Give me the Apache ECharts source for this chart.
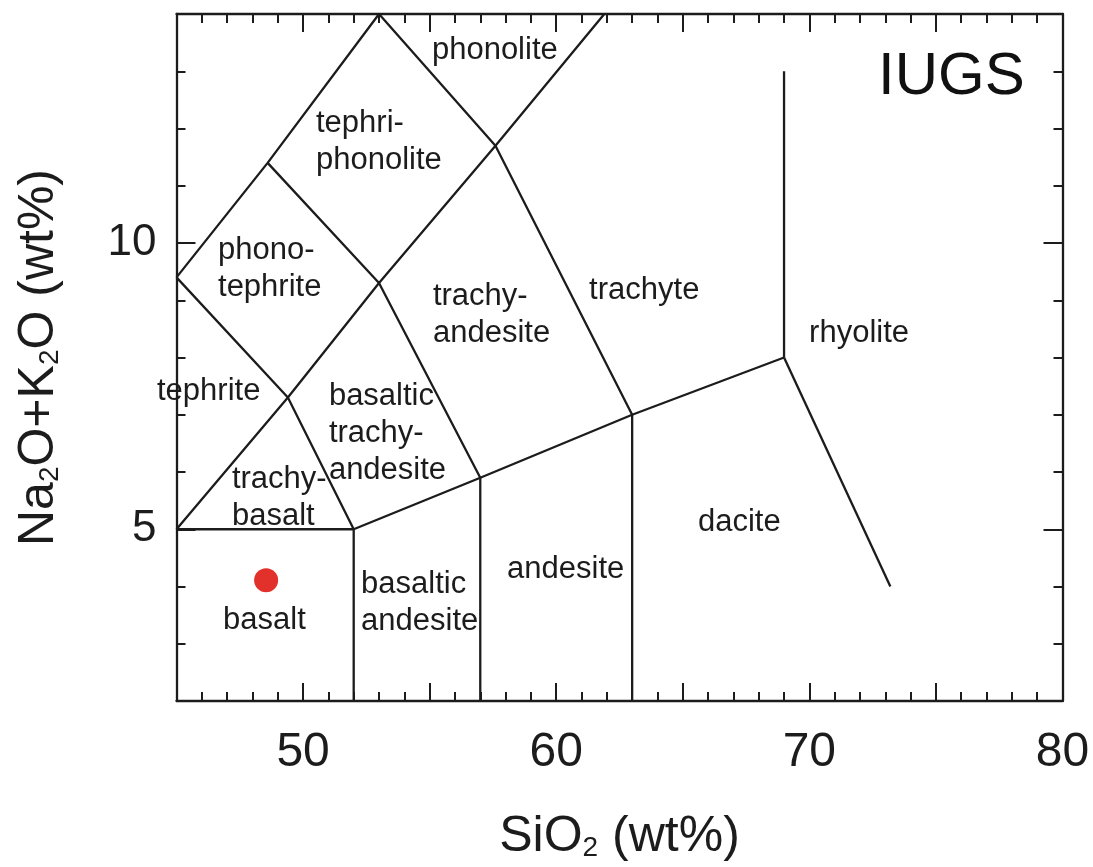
<!DOCTYPE html>
<html>
<head>
<meta charset="utf-8">
<script src="https://cdn.jsdelivr.net/npm/echarts@6/dist/echarts.min.js"></script>
<style>
  html, body { margin: 0; padding: 0; background: #ffffff; }
  #chart { width: 1093px; height: 867px; }
</style>
</head>
<body>
<div id="chart"></div>
<script>
// Total alkali vs. silica classification field boundaries: [SiO2 wt%, Na2O+K2O wt%]
const basaltTop = [[45, 5], [52, 5]];
const basaltRight = [[52, 2], [52, 5]];
const basalticAndesiteRight = [[57, 2], [57, 5.9]];
const andesiteRight = [[63, 2], [63, 7]];
const subalkalineTop = [[52, 5], [57, 5.9], [63, 7], [69, 8]];
const rhyoliteLeft = [[69, 8], [69, 13]];
const daciteRight = [[69, 8], [73.2, 4]];
const diagonalA = [[45, 5], [49.4, 7.3], [53, 9.3], [57.6, 11.7], [61.9, 14]];
const diagonalB = [[45, 9.4], [49.4, 7.3], [52, 5]];
const diagonalC = [[48.6, 11.4], [53, 9.3], [57, 5.9]];
const diagonalD = [[53, 14], [57.6, 11.7], [63, 7]];
const diagonalE = [[45, 9.4], [48.6, 11.4], [53, 14]];

// Field names and their left anchors
const regionNames = [
  'phonolite', 'tephri-\nphonolite', 'phono-\ntephrite', 'trachy-\nandesite', 'trachyte',
  'tephrite', 'basaltic\ntrachy-\nandesite', 'trachy-\nbasalt', 'basalt',
  'basaltic\nandesite', 'andesite', 'dacite', 'rhyolite'
];
const regionSiO2 = [55.09, 50.51, 46.64, 55.13, 61.30, 44.23, 51.02, 47.19, 46.84, 52.29, 58.06, 65.60, 69.99];
const regionAlkali = [13.36, 11.77, 9.55, 8.75, 9.17, 7.41, 6.68, 5.55, 3.41, 3.72, 4.30, 5.11, 8.42];

// Scheme title
const schemeTitle = ['IUGS'];
const schemeSiO2 = [72.71];
const schemeAlkali = [12.90];

// Analysed sample
const sampleSiO2 = [48.54];
const sampleAlkali = [4.11];

// Axis tick labels
const xTickLabels = [50, 60, 70, 80];
const yTickLabels = [5, 10];

const FONT = "'Liberation Sans', Arial, Helvetica, sans-serif";
const INK = '#1c1c1c';

const boundaries = [
  basaltTop, basaltRight, basalticAndesiteRight, andesiteRight, subalkalineTop,
  rhyoliteLeft, daciteRight, diagonalA, diagonalB, diagonalC, diagonalD, diagonalE
];

const lineSeries = boundaries.map(pts => ({
  type: 'line',
  data: pts,
  showSymbol: false,
  symbol: 'none',
  lineStyle: { color: INK, width: 2.3 },
  silent: true,
  clip: true,
  z: 3
}));

const axisLine = { show: true, lineStyle: { color: INK, width: 2.3 } };

function xAxisDef(position, withLabels) {
  return {
    type: 'value', position: position, min: 45, max: 80, interval: 5,
    axisLine: axisLine,
    axisTick: { show: true, inside: true, length: 18, lineStyle: { color: INK, width: 2 } },
    minorTick: { show: true, splitNumber: 5, length: 9, lineStyle: { color: INK, width: 2 } },
    splitLine: { show: false },
    minorSplitLine: { show: false },
    axisLabel: withLabels ? {
      show: true, margin: 28, fontSize: 48, color: INK, fontFamily: FONT,
      formatter: v => (xTickLabels.indexOf(v) >= 0 ? String(v) : '')
    } : { show: false },
    name: withLabels ? 'SiO{s|2} (wt%)' : '',
    nameLocation: 'middle',
    nameGap: 111,
    nameTextStyle: {
      fontSize: 50, color: INK, fontFamily: FONT, lineHeight: 50,
      rich: {
        s: { fontSize: 28, lineHeight: 28, verticalAlign: 'bottom', color: INK, fontFamily: FONT }
      }
    }
  };
}

function yAxisMinor(position) {
  return {
    type: 'value', position: position, offset: 0, min: 2, max: 14, interval: 1,
    axisLine: axisLine,
    axisTick: { show: true, inside: true, length: 9, lineStyle: { color: INK, width: 2 } },
    splitLine: { show: false },
    axisLabel: { show: false }
  };
}

function yAxisMajor(position, withLabels) {
  return {
    type: 'value', position: position, offset: 0, min: 2, max: 14, interval: 1,
    axisLine: { show: false },
    axisTick: { show: true, inside: true, length: 19, customValues: yTickLabels,
      lineStyle: { color: INK, width: 2 } },
    splitLine: { show: false },
    axisLabel: withLabels ? {
      show: true, margin: 20, fontSize: 44, color: INK, fontFamily: FONT,
      customValues: yTickLabels
    } : { show: false },
    name: withLabels ? 'Na{s|2}O+K{s|2}O (wt%)' : '',
    nameLocation: 'middle',
    nameRotate: 90,
    nameGap: 112,
    nameTextStyle: {
      fontSize: 50, color: INK, fontFamily: FONT, lineHeight: 50,
      rich: {
        s: { fontSize: 28, lineHeight: 28, verticalAlign: 'bottom', color: INK, fontFamily: FONT }
      }
    }
  };
}

const option = {
  backgroundColor: '#ffffff',
  animation: false,
  grid: { left: 176.5, right: 30.5, top: 14, bottom: 163, containLabel: false },
  xAxis: [xAxisDef('bottom', true), xAxisDef('top', false)],
  yAxis: [yAxisMinor('left'), yAxisMajor('left', true), yAxisMinor('right'), yAxisMajor('right', false)],
  series: [
    ...lineSeries,
    {
      type: 'scatter',
      data: regionNames.map((n, i) => ({ name: n, value: [regionSiO2[i], regionAlkali[i]] })),
      symbolSize: 0,
      clip: false,
      silent: true,
      itemStyle: { opacity: 1 },
      label: {
        show: true, position: [0, 0], align: 'left', verticalAlign: 'middle',
        formatter: p => p.name,
        fontSize: 31, lineHeight: 37, color: INK, fontFamily: FONT
      },
      z: 5
    },
    {
      type: 'scatter',
      data: schemeTitle.map((n, i) => ({ name: n, value: [schemeSiO2[i], schemeAlkali[i]] })),
      symbolSize: 0,
      clip: false,
      silent: true,
      itemStyle: { opacity: 1 },
      label: {
        show: true, position: [0, 0], align: 'left', verticalAlign: 'middle',
        formatter: p => p.name,
        fontSize: 60, color: '#111111', fontFamily: FONT
      },
      z: 5
    },
    {
      type: 'scatter',
      data: sampleSiO2.map((x, i) => [x, sampleAlkali[i]]),
      symbol: 'circle',
      symbolSize: 24,
      itemStyle: { color: '#e2302b', opacity: 1 },
      z: 6
    }
  ]
};

const chart = echarts.init(document.getElementById('chart'), null, { renderer: 'canvas' });
chart.setOption(option);
</script>
</body>
</html>
